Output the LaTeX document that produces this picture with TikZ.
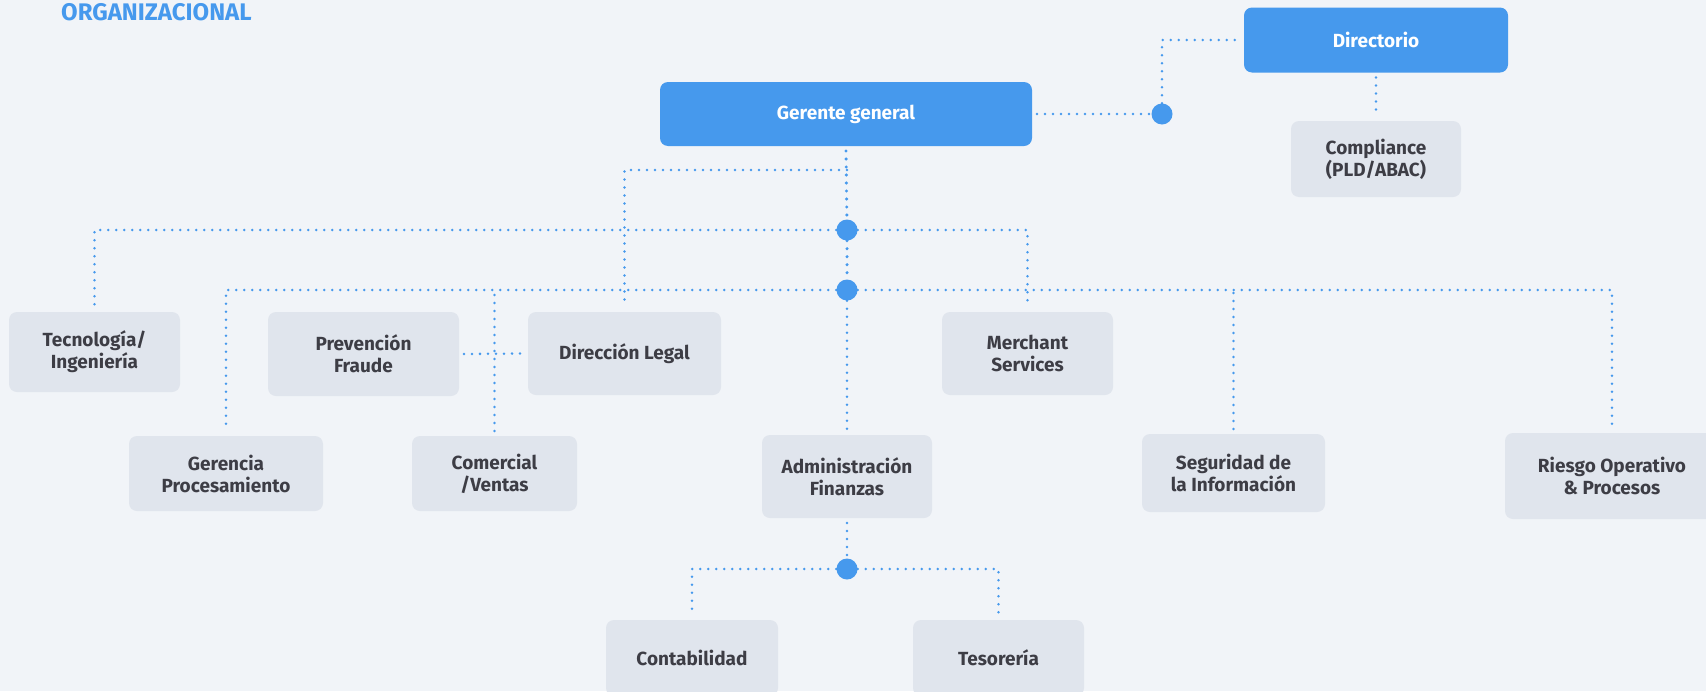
\documentclass[tikz,border=0pt]{standalone}
\usepackage{fontspec}
\setmainfont{Fira Sans}
\usetikzlibrary{positioning}
\definecolor{orgblue}{HTML}{4699ED}
\definecolor{boxgray}{HTML}{E0E5ED}
\definecolor{txtgray}{HTML}{3D3D45}
\definecolor{bgcol}{HTML}{F1F4F8}

\begin{document}
\begin{tikzpicture}[x=1pt,y=-1pt,
	unit/.style={fill=boxgray,rounded corners=8pt,text=txtgray,align=center,inner sep=0pt,outer sep=5pt,
		font=\fontsize{19}{22}\selectfont\bfseries},
	head/.style={unit,fill=orgblue,text=white},
	link/.style={orgblue,line width=2.8pt,line cap=round,dash pattern=on 0pt off 8pt},
	hub/.style={circle,fill=orgblue,minimum size=21pt,inner sep=0pt}]
	% background
	\fill[bgcol] (0,0) rectangle (1706,691);
	\useasboundingbox (0,0) rectangle (1706,691);
	% title
	\node[anchor=west,text=orgblue,font=\fontsize{24}{28}\selectfont\bfseries,inner sep=0pt] (titulo) at (61,12) {ORGANIZACIONAL};
	% top level
	\node[head,minimum width=372,minimum height=64] (gerente) at (846,114) {Gerente general};
	\node[head,minimum width=264,minimum height=65] (directorio) at (1376,40) {Directorio};
	\node[unit,minimum width=170,minimum height=76] (compliance) at (1376,159) {Compliance\\(PLD/ABAC)};
	% hubs
	\node[hub] (jdir) at (1162,114) {};
	\node[hub] (j1) at (847,230) {};
	\node[hub] (j2) at (847,290) {};
	\node[hub] (j3) at (847,569) {};
	\coordinate (jlegal) at (847,170);
	% second row
	\node[unit,minimum width=171,minimum height=80] (tec) at (94.5,352) {Tecnología/\\Ingeniería};
	\node[unit,minimum width=191,minimum height=84] (prevencion) at (363.5,354) {Prevención\\Fraude};
	\node[unit,minimum width=193,minimum height=83] (legal) at (624.5,353.5) {Dirección Legal};
	\node[unit,minimum width=171,minimum height=83] (merchant) at (1027.5,353.5) {Merchant\\Services};
	% third row
	\node[unit,minimum width=194,minimum height=75] (gerencia) at (226,473.5) {Gerencia\\Procesamiento};
	\node[unit,minimum width=165,minimum height=75] (comercial) at (494.5,473.5) {Comercial\\/Ventas};
	\node[unit,minimum width=170,minimum height=83] (admin) at (847,476.5) {Administración\\Finanzas};
	\node[unit,minimum width=183,minimum height=78] (seguridad) at (1233.5,473) {Seguridad de\\la Información};
	\node[unit,minimum width=214,minimum height=86] (riesgo) at (1612,476) {Riesgo Operativo\\\& Procesos};
	% bottom row
	\node[unit,minimum width=172,minimum height=76] (conta) at (692,658) {Contabilidad};
	\node[unit,minimum width=171,minimum height=76] (teso) at (998.5,658) {Tesorería};
	% connectors
	\draw[link] (gerente.east) -- (jdir);
	\draw[link] (jdir) |- (directorio.west);
	\draw[link] (directorio.south) -- (compliance.north);
	\draw[link,line width=3.4pt] (gerente.south) -- (j1);
	\draw[link,line width=3.4pt] (j1) -- (j2);
	\draw[link] (j2) -- (admin.north);
	\draw[link] (jlegal) -| (legal.north);
	\draw[link] (j1) -| (tec.north);
	\draw[link] (j1) -| (merchant.north);
	\draw[link] (j2) -| (gerencia.north);
	\draw[link] (j2) -| (riesgo.north);
	\draw[link] (comercial.north) -- (comercial.north |- j2);
	\draw[link] (seguridad.north) -- (seguridad.north |- j2);
	\draw[link] (prevencion.east) -- (legal.west);
	\draw[link] (admin.south) -- (j3);
	\draw[link] (j3) -| (conta.north);
	\draw[link] (j3) -| (teso.north);
\end{tikzpicture}
\end{document}
